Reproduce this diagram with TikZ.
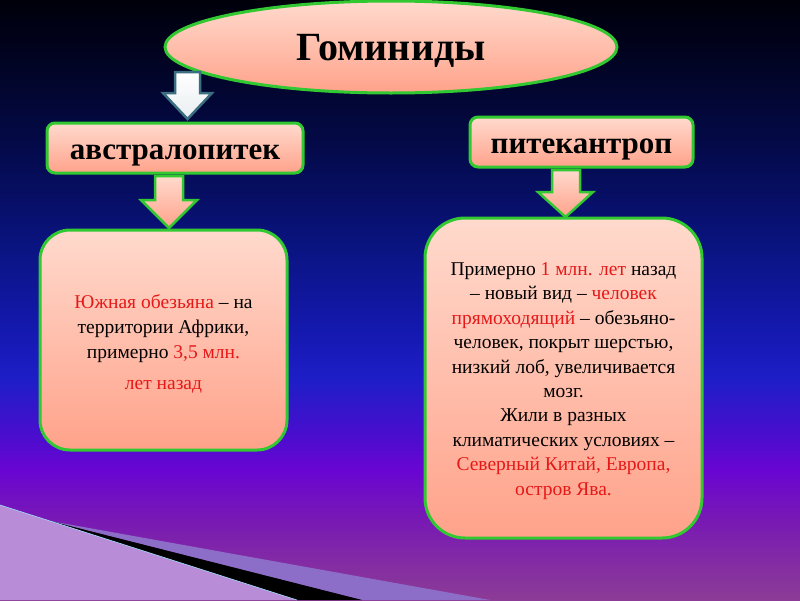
\documentclass[tikz,border=0pt]{standalone}
\usepackage{fontspec}
\setmainfont{Liberation Serif}
\usetikzlibrary{shapes.geometric}

\definecolor{bg0}{RGB}{140,60,150}
\definecolor{bg1}{RGB}{120,25,180}
\definecolor{bg2}{RGB}{105,5,210}
\definecolor{bg3}{RGB}{70,15,205}
\definecolor{bg4}{RGB}{30,30,200}
\definecolor{bg5}{RGB}{20,25,175}
\definecolor{bg6}{RGB}{10,20,130}
\definecolor{bg7}{RGB}{4,10,75}
\definecolor{bg8}{RGB}{1,3,30}
\definecolor{bg9}{RGB}{0,0,10}
\definecolor{boxgreen}{RGB}{50,200,50}
\definecolor{boxtop}{RGB}{255,218,205}
\definecolor{boxbot}{RGB}{255,162,138}
\definecolor{hired}{RGB}{230,25,25}
\definecolor{arrowedge}{RGB}{60,110,130}
\definecolor{raypale}{RGB}{185,140,215}
\definecolor{rayband}{RGB}{140,110,200}

\pgfdeclareverticalshading{slidebg}{100bp}{color(0bp)=(bg0); color(25bp)=(bg0);
    color(31.67bp)=(bg1); color(35.83bp)=(bg2); color(39.17bp)=(bg3);
    color(43.33bp)=(bg4); color(47.5bp)=(bg5); color(54.17bp)=(bg6);
    color(62.5bp)=(bg7); color(70.83bp)=(bg8); color(75bp)=(bg9); color(100bp)=(bg9)}

\tikzset{
    card/.style={draw=boxgreen, line width=3pt, top color=boxtop, bottom color=boxbot},
    titlecard/.style={card, rounded corners=8pt, minimum height=50pt, inner sep=0pt,
        text height=22pt, text depth=0pt, font=\fontsize{31}{31}\selectfont\bfseries},
    infocard/.style={card, inner sep=0pt},
    infotext/.style={align=center, inner sep=0pt, font=\fontsize{19.5}{#1}\selectfont},
    pinkarrow/.style={draw=boxgreen, line width=2.5pt, line join=miter, top color=boxtop, bottom color=boxbot},
    whitearrow/.style={draw=arrowedge, line width=2.5pt, top color=white, bottom color=white!88!arrowedge}
}

\begin{document}
\begin{tikzpicture}[x=1pt, y=-1pt]
    \useasboundingbox (0,0) rectangle (800,600);
    \shade[shading=slidebg] (0,0) rectangle (800,600);
    \fill[rayband] (50,521) -- (490,600) -- (362,600) -- cycle;
    \fill[black] (50,521) -- (362,600) -- (297,600) -- cycle;
    \fill[raypale] (0,505) -- (297,600) -- (0,600) -- cycle;
    \draw[cyan!40!white, line width=0.6pt] (0,505) -- (297,600);

    \node[ellipse, card, minimum width=452pt, minimum height=92pt, inner sep=0pt,
        text height=26pt, text depth=0pt,
        font=\fontsize{40}{40}\selectfont\bfseries] (hominids) at (391,47) {Гоминиды};

    \node[titlecard, minimum width=256pt] (australo) at (175,148) {австралопитек};
    \node[titlecard, minimum width=223pt] (pithec) at (581.5,142) {питекантроп};

    \node[infocard, rounded corners=30pt, minimum width=247pt, minimum height=220pt] (australinfo) at (163.5,340) {};
    \node[infotext=25] (australtext) at ([yshift=-4pt]australinfo.center)
        {{\color{hired}Южная обезьяна} – на\\территории Африки,\\примерно {\color{hired}3,5 млн.}\\[6pt]{\color{hired}лет назад}};
    \node[infocard, rounded corners=40pt, minimum width=277pt, minimum height=320pt] (pithecinfo) at (563.5,378) {};
    \node[infotext=24.4] (pithectext) at ([yshift=-3pt]pithecinfo.center)
        {Примерно {\color{hired}1 млн. лет} назад\\– новый вид – {\color{hired}человек}\\{\color{hired}прямоходящий} – обезьяно-\\человек, покрыт шерстью,\\низкий лоб, увеличивается\\мозг.\\Жили в разных\\климатических условиях –\\{\color{hired}Северный Китай, Европа,}\\{\color{hired}остров Ява.}};

    \draw[whitearrow] (175,72) -- (200,72) -- (200,93) -- (212,93) -- (187.5,119) -- (163,93) -- (175,93) -- cycle;
    \draw[pinkarrow] (155,176) -- (183,176) -- (183,200) -- (197,200) -- (169,228) -- (141,200) -- (155,200) -- cycle;
    \draw[pinkarrow] (552,170) -- (580,170) -- (580,192) -- (593,192) -- (565.5,217) -- (538,192) -- (552,192) -- cycle;
\end{tikzpicture}
\end{document}
